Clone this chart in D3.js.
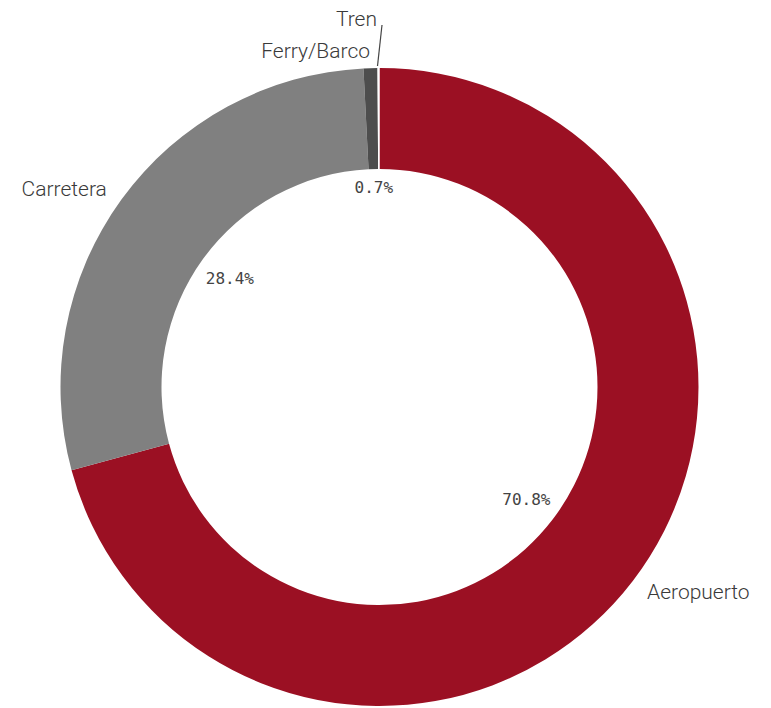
<!DOCTYPE html>
<html>
<head>
<meta charset="utf-8">
<script src="https://cdn.jsdelivr.net/npm/d3@7"></script>
<style>
  html, body { margin: 0; padding: 0; background: #ffffff; }
  svg { display: block; }
</style>
</head>
<body>
<svg id="chart" width="771" height="708"></svg>
<script>
const categories = ["Aeropuerto", "Carretera", "Ferry/Barco", "Tren"];
const values = [70.8, 28.4, 0.7, 0.1];
const pctLabels = ["70.8%", "28.4%", "0.7%", ""];
const colors = ["#9b1023", "#808080", "#4d4d4d", "#ffffff"];

const W = 771, H = 708;
const cx = 379.5, cy = 387;
const R = 319, r = 218;

const svg = d3.select("#chart");
const g = svg.append("g").attr("transform", `translate(${cx},${cy})`);

const data = categories.map((c, i) => ({ name: c, value: values[i], pct: pctLabels[i], color: colors[i] }));

const pie = d3.pie().value(d => d.value).sort(null);
const arcs = pie(data);
const arc = d3.arc().innerRadius(r).outerRadius(R);

g.selectAll("path.slice")
  .data(arcs)
  .join("path")
  .attr("class", "slice")
  .attr("d", arc)
  .attr("fill", d => d.data.color);

const mid = d => (d.startAngle + d.endAngle) / 2;
const polar = (a, rad) => [rad * Math.sin(a), -rad * Math.cos(a)];

// Percent labels inside the hole
g.selectAll("text.pct")
  .data(arcs.filter(d => d.data.pct))
  .join("text")
  .attr("class", "pct")
  .attr("x", d => polar(mid(d), (d.endAngle - d.startAngle) < 0.1 ? 200 : 185)[0])
  .attr("y", d => polar(mid(d), (d.endAngle - d.startAngle) < 0.1 ? 200 : 185)[1])
  .attr("dy", "0.35em")
  .attr("text-anchor", "middle")
  .attr("font-family", "'DejaVu Sans Mono', monospace")
  .attr("font-size", 16)
  .attr("fill", "#444")
  .text(d => d.data.pct);

// Outer category labels
const tiny = d => (d.endAngle - d.startAngle) < 0.02;
const normal = arcs.filter(d => !tiny(d));
g.selectAll("text.cat")
  .data(normal)
  .join("text")
  .attr("class", "cat")
  .attr("x", d => polar(mid(d), 337)[0])
  .attr("y", d => polar(mid(d), 337)[1])
  .attr("dy", "0.35em")
  .attr("text-anchor", d => Math.sin(mid(d)) >= 0 ? "start" : "end")
  .attr("font-family", "Roboto, sans-serif")
  .attr("font-weight", 300)
  .attr("font-size", 21)
  .attr("fill", "#3a3a3a")
  .text(d => d.data.name);

// Tiny slice label with leader line
arcs.filter(tiny).forEach(d => {
  const p0 = polar(mid(d), R);
  const p1 = [p0[0] + 3.5, -362];
  g.append("line")
    .attr("x1", p0[0] - 1).attr("y1", p0[1] - 2)
    .attr("x2", p1[0]).attr("y2", p1[1])
    .attr("stroke", "#444").attr("stroke-width", 1.2);
  g.append("text")
    .attr("x", p1[0] - 5)
    .attr("y", -368)
    .attr("dy", "0.35em")
    .attr("text-anchor", "end")
    .attr("font-family", "Roboto, sans-serif")
    .attr("font-weight", 300)
    .attr("font-size", 21)
    .attr("fill", "#3a3a3a")
    .text(d.data.name);
});
</script>
</body>
</html>
